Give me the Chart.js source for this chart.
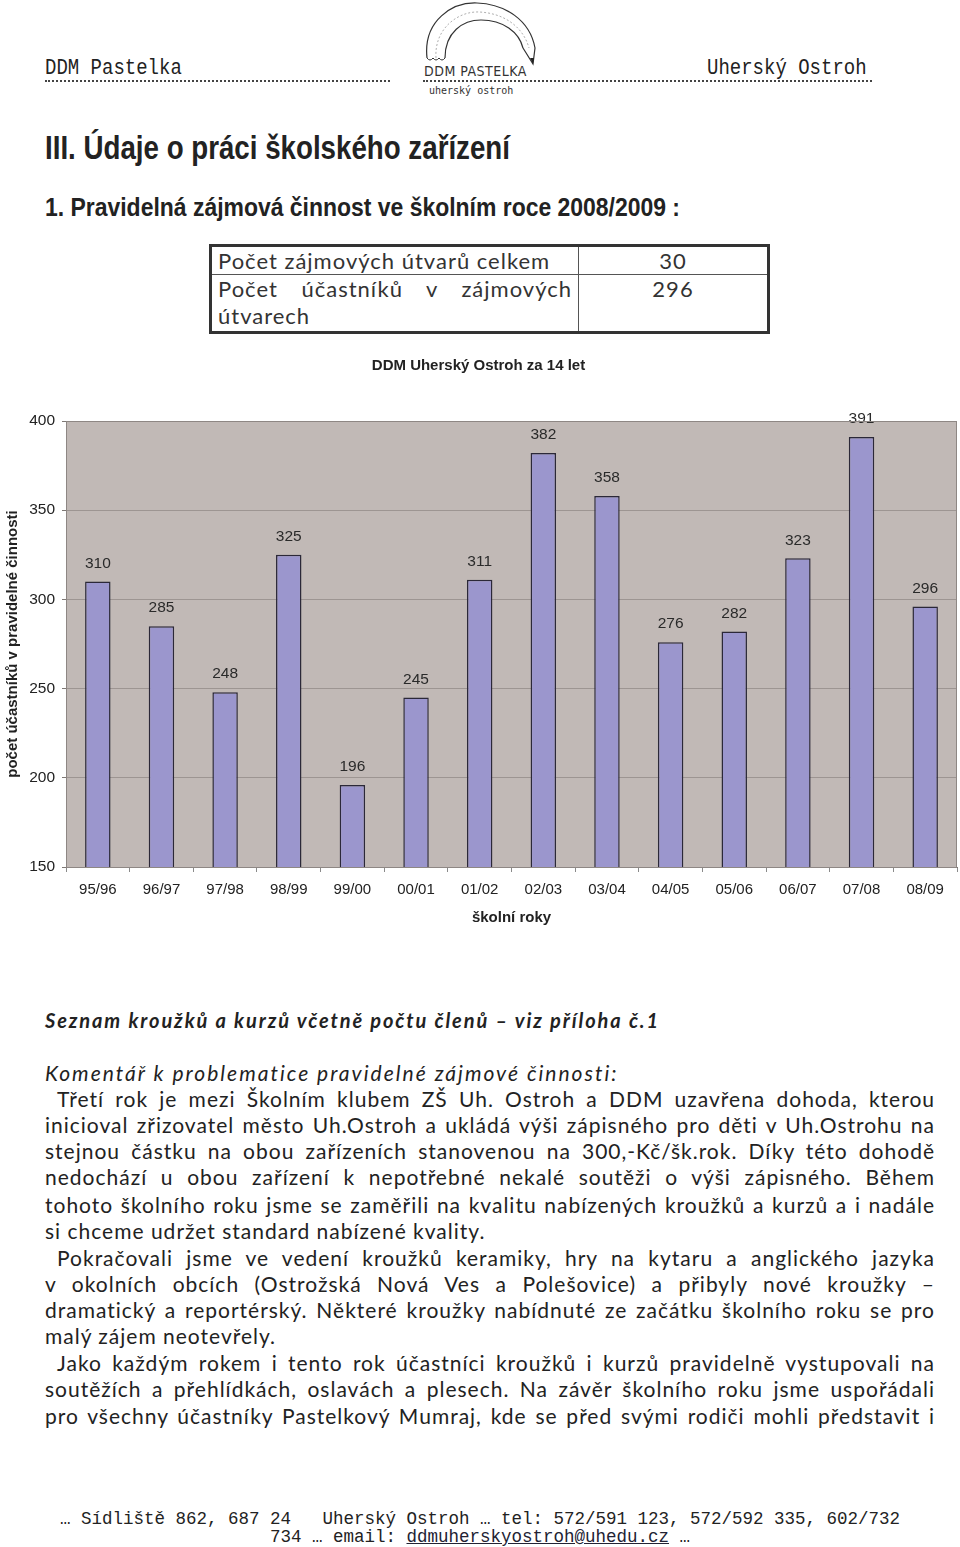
<!DOCTYPE html>
<html>
<head>
<meta charset="utf-8">
<script src="https://cdn.jsdelivr.net/npm/chart.js@4/dist/chart.umd.min.js"></script>
<style>
body{margin:0;width:960px;height:1547px;position:relative;background:#fff;color:#222;font-family:Lato,"Liberation Sans",sans-serif;overflow:hidden}
.abs{position:absolute;white-space:nowrap}
.mono{font-family:"Liberation Mono","DejaVu Sans Mono",monospace}
.hdr{font-size:19px;top:58px;line-height:24px;transform:scaleY(1.2);transform-origin:left bottom}
.dots{position:absolute;border-bottom:2px dotted #444;height:0}
.h1{left:45px;top:127px;font-family:"Liberation Sans Narrow","Liberation Sans",sans-serif;font-weight:bold;font-size:34px;line-height:40px;color:#222;transform-origin:left center}
.h2{left:45px;top:192px;font-family:"Liberation Sans Narrow","Liberation Sans",sans-serif;font-weight:bold;font-size:25px;line-height:30px;color:#222;transform-origin:left center}
table{position:absolute;left:209px;top:244px;width:561px;border-collapse:collapse;border:3px solid #333;font-size:22px;color:#333;letter-spacing:1px}
td{border:1px solid #555;padding:0 6px;line-height:27px;vertical-align:top}
.ln{position:absolute;left:45px;width:890px;font-size:21px;letter-spacing:1px;line-height:26px;text-align:justify;text-align-last:justify;white-space:nowrap;color:#222}
.end{text-align-last:left}
.foot{font-size:17.5px;line-height:18px;left:0;width:960px;text-align:center;color:#222}
</style>
</head>
<body>

<!-- header -->
<div class="abs mono hdr" style="left:45px">DDM Pastelka</div>
<div class="dots" style="left:45px;width:345px;top:80px"></div>
<div class="abs mono hdr" style="left:707px">Uherský Ostroh</div>
<div class="dots" style="left:423px;width:449px;top:80px"></div>
<svg class="abs" style="left:415px;top:0" width="135" height="100" viewBox="0 0 135 100">
  <path d="M12 58 C 8 20, 38 2, 62 3 C 90 4, 115 20, 120 48" fill="none" stroke="#333" stroke-width="1.2"/>
  <path d="M30 58 C 30 32, 48 20, 66 20 C 88 20, 104 32, 108 48" fill="none" stroke="#333" stroke-width="1.2"/>
  <path d="M21 58 C 19 28, 44 11, 64 12 C 88 13, 108 26, 114 48" fill="none" stroke="#999" stroke-width="0.8" stroke-dasharray="2 2"/>
  <path d="M12 58 Q 15 62 18 58 Q 21 62 24 58 Q 27 62 30 58" fill="none" stroke="#333" stroke-width="1"/>
  <path d="M108 48 L 118 64 L 120 48" fill="none" stroke="#333" stroke-width="1.2"/>
  <path d="M115 58 L 118 64 L 119 58 Z" fill="#222"/>
  <text x="9" y="76" font-family="DejaVu Sans Condensed, DejaVu Sans" font-size="14" fill="#333" letter-spacing="0.5">DDM PASTELKA</text>
  <text x="14" y="94" font-family="DejaVu Sans Mono" font-size="10" fill="#333">uherský ostroh</text>
</svg>

<div class="abs h1" id="h1">III. Údaje o práci školského zařízení</div>
<div class="abs h2" id="h2">1. Pravidelná zájmová činnost ve školním roce 2008/2009 :</div>

<table>
  <tr><td style="width:354px">Počet zájmových útvarů celkem</td><td style="text-align:center">30</td></tr>
  <tr><td style="padding-bottom:2px"><div style="text-align:justify;text-align-last:justify">Počet účastníků v zájmových</div>útvarech</td><td style="text-align:center">296</td></tr>
</table>

<div class="abs" style="left:0;top:345px;width:960px;height:590px">
  <canvas id="barChart"></canvas>
</div>

<div class="abs" id="seznam" style="left:45px;top:1007px;font-size:20px;line-height:26px;font-weight:bold;font-style:italic">Seznam kroužků a kurzů včetně počtu členů – viz příloha č.1</div>
<div class="abs" id="koment" style="left:45px;top:1060px;font-size:21px;line-height:26px;font-style:italic">Komentář k problematice pravidelné zájmové činnosti:</div>

<div class="ln" style="top:1086px;padding-left:12px;width:878px">Třetí rok je mezi Školním klubem ZŠ Uh. Ostroh a DDM uzavřena dohoda, kterou</div>
<div class="ln" style="top:1112px">inicioval zřizovatel město Uh.Ostroh a ukládá výši zápisného pro děti v Uh.Ostrohu na</div>
<div class="ln" style="top:1138px">stejnou částku na obou zařízeních stanovenou na 300,-Kč/šk.rok. Díky této dohodě</div>
<div class="ln" style="top:1164px">nedochází u obou zařízení k nepotřebné nekalé soutěži o výši zápisného. Během</div>
<div class="ln" style="top:1192px">tohoto školního roku jsme se zaměřili na kvalitu nabízených kroužků a kurzů a i nadále</div>
<div class="ln end" style="top:1218px">si chceme udržet standard nabízené kvality.</div>
<div class="ln" style="top:1245px;padding-left:12px;width:878px">Pokračovali jsme ve vedení kroužků keramiky, hry na kytaru a anglického jazyka</div>
<div class="ln" style="top:1271px">v okolních obcích (Ostrožská Nová Ves a Polešovice) a přibyly nové kroužky –</div>
<div class="ln" style="top:1297px">dramatický a reportérský. Některé kroužky nabídnuté ze začátku školního roku se pro</div>
<div class="ln end" style="top:1323px">malý zájem neotevřely.</div>
<div class="ln" style="top:1350px;padding-left:12px;width:878px">Jako každým rokem i tento rok účastníci kroužků i kurzů pravidelně vystupovali na</div>
<div class="ln" style="top:1376px">soutěžích a přehlídkách, oslavách a plesech. Na závěr školního roku jsme uspořádali</div>
<div class="ln" style="top:1403px">pro všechny účastníky Pastelkový Mumraj, kde se před svými rodiči mohli představit i</div>

<div class="abs mono foot" style="top:1510px">… Sídliště 862, 687 24&nbsp;&nbsp;&nbsp;Uherský Ostroh … tel: 572/591 123, 572/592 335, 602/732</div>
<div class="abs mono foot" style="top:1528px">734 … email: <span style="text-decoration:underline;color:#223">ddmuherskyostroh@uhedu.cz</span> …</div>

<script>
let schoolYears = ['95/96', '96/97', '97/98', '98/99', '99/00', '00/01', '01/02', '02/03', '03/04', '04/05', '05/06', '06/07', '07/08', '08/09']
let participants = [310, 285, 248, 325, 196, 245, 311, 382, 358, 276, 282, 323, 391, 296]
let yTicks = [150, 200, 250, 300, 350, 400]

// squeeze headings / stretch italic lines to the widths in the scan
function squeeze(id, target){
    let el = document.getElementById(id);
    let w = el.getBoundingClientRect().width;
    el.style.transform = 'scaleX(' + (target / w) + ')';
}
function spread(id, target){
    let el = document.getElementById(id);
    let w = el.getBoundingClientRect().width;
    el.style.letterSpacing = ((target - w) / el.textContent.length) + 'px';
}
squeeze('h1', 465);
squeeze('h2', 635);
spread('seznam', 615);
spread('koment', 573);

// plot background + frame
const plotBg = {
    id: 'plotBg',
    beforeDraw(chart){
        let a = chart.chartArea, ctx = chart.ctx;
        ctx.save();
        ctx.fillStyle = '#c1b9b6';
        ctx.fillRect(a.left, a.top, a.right - a.left, a.bottom - a.top);
        ctx.restore();
    },
    afterDraw(chart){
        let a = chart.chartArea, ctx = chart.ctx;
        ctx.save();
        ctx.strokeStyle = '#8e8784';
        ctx.lineWidth = 1;
        ctx.strokeRect(a.left + 0.5, a.top + 0.5, a.right - a.left - 1, a.bottom - a.top);
        ctx.restore();
    }
}

// value above each bar
const barValues = {
    id: 'barValues',
    afterDatasetsDraw(chart){
        let ctx = chart.ctx;
        ctx.save();
        ctx.font = '15.5px "Liberation Sans", Arial, sans-serif';
        ctx.fillStyle = '#2a2a2a';
        ctx.textAlign = 'center';
        ctx.textBaseline = 'middle';
        chart.getDatasetMeta(0).data.forEach((bar, i) => {
            ctx.fillText(participants[i], bar.x, bar.y - 18);
        });
        ctx.restore();
    }
}

new Chart(document.getElementById('barChart'), {
    type: 'bar',
    data: {
        labels: schoolYears,
        datasets: [{
            data: participants,
            backgroundColor: '#9b96cd',
            borderColor: '#2b2838',
            borderWidth: 1.5,
            barPercentage: 0.4,
            categoryPercentage: 1
        }]
    },
    options: {
        responsive: true,
        maintainAspectRatio: false,
        animation: false,
        layout: { padding: { top: 0, right: 3, bottom: 4, left: 0 } },
        plugins: {
            legend: { display: false },
            tooltip: { enabled: false },
            title: {
                display: true,
                text: 'DDM Uherský Ostroh za 14 let',
                color: '#222',
                font: { family: '"Liberation Sans", Arial, sans-serif', size: 15, weight: 'bold' },
                padding: { top: 12, bottom: 46 }
            }
        },
        scales: {
            x: {
                grid: { offset: true, drawOnChartArea: false, tickLength: 5, color: '#8a8a8a' },
                border: { color: '#7d7774' },
                ticks: { color: '#222', padding: 9, maxRotation: 0, autoSkip: false,
                    font: { family: '"Liberation Sans", Arial, sans-serif', size: 15 } },
                title: { display: true, text: 'školní roky', color: '#222', padding: { top: 1, bottom: 4 },
                    font: { family: '"Liberation Sans", Arial, sans-serif', size: 15, weight: 'bold' } }
            },
            y: {
                min: 150, max: 400,
                afterBuildTicks: s => { s.ticks = yTicks.map(v => ({ value: v })) },
                afterFit: s => { s.width = 66 },
                grid: { color: '#9d9592', tickLength: 4, tickColor: '#7d7774' },
                border: { color: '#7d7774' },
                ticks: { color: '#222', padding: 7,
                    font: { family: '"Liberation Sans", Arial, sans-serif', size: 15.5 } },
                title: { display: true, text: 'počet účastníků v pravidelné činnosti', color: '#222', padding: { top: 4, bottom: 0 },
                    font: { family: '"Liberation Sans", Arial, sans-serif', size: 15, weight: 'bold' } }
            }
        }
    },
    plugins: [plotBg, barValues]
});
</script>
</body>
</html>
